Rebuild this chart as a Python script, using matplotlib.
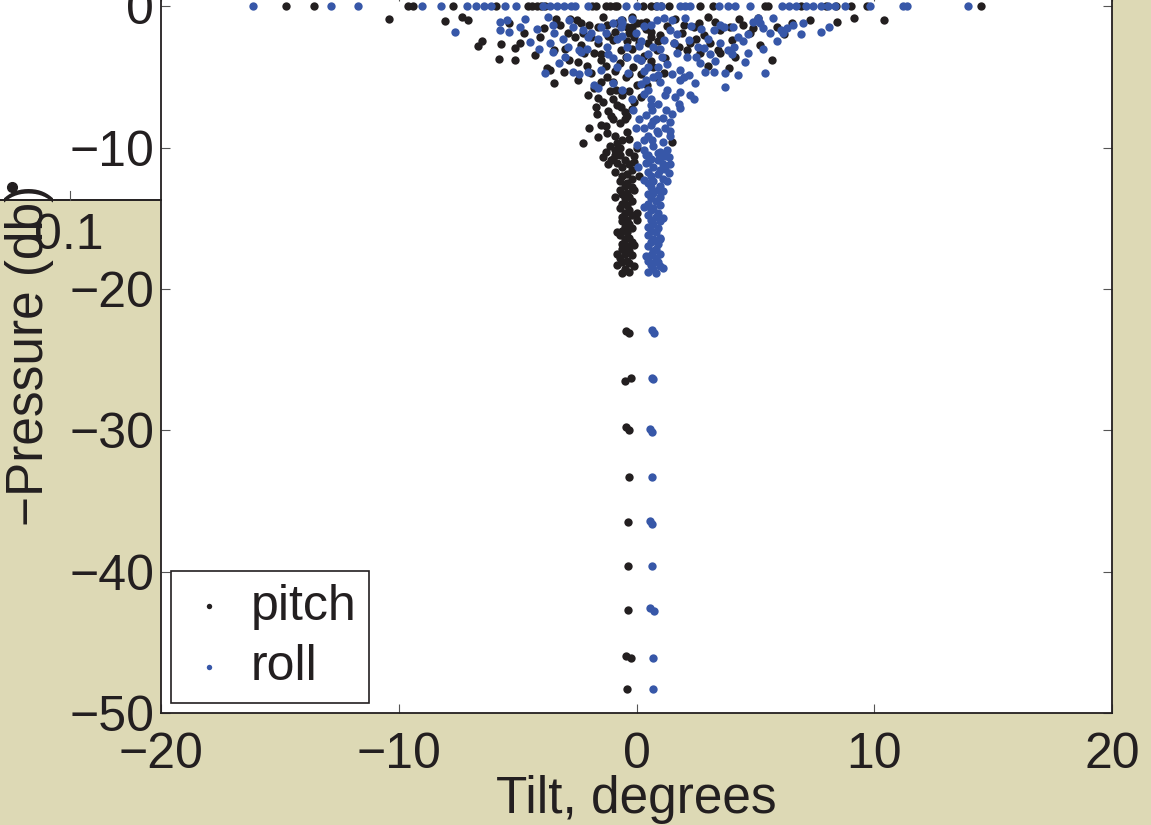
import matplotlib
matplotlib.use("Agg")
import numpy as np
import matplotlib.pyplot as plt
from matplotlib.patches import Rectangle
from matplotlib.lines import Line2D

plt.rcParams['font.family'] = ['Liberation Sans', 'DejaVu Sans']

# points sitting on the surface (pressure = 0)
pitch_top_x = [-14.76, -13.58, -9.63, -9.38, -7.70, -5.89, -4.58, -4.40, -4.20, -4.00,
               -3.83, -1.89, -1.72, -1.30, -1.10, -0.90, -0.80, 0.29, 0.59, 0.80,
               1.01, 1.35, 2.69, 3.20, 5.42, 5.55, 6.90, 7.95, 8.40, 9.04,
               9.71, 14.50]
roll_top_x = [-16.15, -12.87, -11.73, -9.04, -8.24, -7.15, -6.73, -6.43, -6.14, -5.55,
              -5.05, -3.95, -3.65, -3.35, -3.05, -2.75, -2.57, -2.06, -0.46, 0.04,
              0.85, 1.05, 1.85, 2.05, 2.27, 3.45, 3.83, 4.16, 4.79, 6.14,
              6.42, 6.69, 7.15, 7.44, 7.75, 8.05, 8.37, 8.75, 9.84, 11.22,
              11.38, 13.96]

# the cloud near the surface
pitch_cloud_x = [-10.43, -8.07, -7.36, -7.07, -6.65, -6.48, -5.80, -5.68, -5.38, -5.09,
                 -5.09, -4.88, -4.75, -4.29, -3.90, -3.78, -3.62, -3.49, -3.49, -3.20,
                 -3.07, -2.86, -2.48, -2.48, -2.35, -2.06, -1.98, -2.27, -1.72, -1.68,
                 -1.51, -1.60, -1.22, -1.43, -1.09, -0.97, -0.88, -0.97, -1.22, -1.51,
                 -1.80, -1.64, -0.97, -0.67, -0.38, -0.13, -0.46, -0.67, -0.38, -0.80,
                 -1.09, 0.04, 0.04, 0.04, -0.17, 0.04, -1.64, -2.23, -2.35, -1.22,
                 -0.59, -0.38, -0.46, 0.17, 0.38, 0.59, 1.00, 0.88, 1.14, 0.71,
                 0.46, 0.17, 1.51, 1.56, 1.93, 2.14, 2.27, 2.40, 2.61, 2.69,
                 2.99, 2.82, 3.41, 3.53, 3.53, 3.87, 3.95, 4.16, 4.79, 4.92,
                 5.21, 5.13, 5.72, 6.56, 8.45, 9.13, 10.43, -1.30, -0.90, -0.20,
                 0.30, 0.50, -1.10, -0.60, -1.40, -0.80, -1.20, -0.50, -1.00, -0.70,
                 -1.30, -0.40, -0.90, -0.60, -1.10, -0.30, -0.70, -1.60, -1.80, -2.10,
                 -1.50, 0.00, 0.20, -0.30, 0.60, 0.90, 1.20, -0.10, 0.40, -0.90,
                 -2.60, -3.00, -2.00, -4.05, -2.80, -1.40, -0.20, 1.60, 3.00, 4.30]
pitch_cloud_y = [-0.92, -1.06, -0.78, -0.99, -2.80, -2.50, -3.75, -2.70, -1.20, -2.95,
                 -3.80, -2.60, -1.90, -3.46, -1.57, -4.40, -4.50, -5.45, -3.10, -1.34,
                 -4.66, -3.80, -3.95, -5.20, -2.76, -6.30, -8.60, -9.70, -7.10, -7.60,
                 -8.40, -9.25, -9.00, -10.70, -7.80, -6.60, -5.90, -5.40, -5.00, -3.80,
                 -3.30, -2.60, -2.40, -3.10, -2.50, -4.30, -5.00, -7.10, -7.80, -9.70,
                 -10.90, -10.00, -15.10, -14.60, -1.50, -1.20, -1.50, -1.90, -1.20, -1.34,
                 -0.99, -1.50, -3.60, -1.20, -1.13, -1.84, -2.05, -3.10, -4.70, -4.30,
                 -5.60, -6.40, -9.60, -2.60, -1.90, -3.10, -2.60, -1.50, -1.20, -3.30,
                 -4.20, -2.05, -3.10, -3.30, -1.70, -4.40, -1.50, -3.60, -1.90, -1.56,
                 -2.76, -0.85, -3.80, -1.20, -1.13, -0.85, -0.99, -4.20, -4.60, -3.00,
                 -3.50, -2.60, -6.00, -6.30, -6.80, -7.00, -7.40, -7.50, -8.00, -8.30,
                 -8.50, -8.90, -9.20, -9.50, -9.90, -9.40, -10.00, -6.50, -5.80, -4.20,
                 -3.40, -5.60, -4.80, -6.00, -3.90, -2.50, -3.70, -2.20, -1.60, -1.80,
                 -2.20, -3.00, -1.30, -2.20, -0.90, -0.75, -0.80, -0.90, -0.80, -0.90]
pitch_extra_x = [-3.4, -2.9, -2.5, -1.9, -1.2, -0.8, -0.3, 0.1, 0.6, 1.3,
                 1.8, 2.0, 2.5, 3.1, 3.3, 4.0, 4.5, 5.9, 6.2, 7.3,
                 -2.2, -1.9, -1.5, -0.7, -0.3, 0.2, 0.8, -0.1, -0.5, -0.2,
                 -1.3, -0.9, -1.2, -0.1, 0.1, -0.9, -0.1, -0.8, -0.1, -0.8]
pitch_extra_y = [-0.9, -1.9, -1.0, -2.2, -2.1, -1.2, -1.9, -2.6, -2.2, -1.4,
                 -2.9, -1.3, -2.3, -2.6, -1.1, -2.4, -1.3, -1.5, -2.0, -1.0,
                 -3.3, -4.7, -5.4, -4.0, -4.8, -3.8, -5.0, -6.8, -8.0, -7.3,
                 -10.3, -10.5, -11.2, -11.0, -12.0, -13.5, -13.0, -16.0, -16.9, -17.5]

roll_cloud_x = [-7.65, -5.76, -5.43, -5.76, -5.38, -4.67, -4.46, -3.83, -3.74, -3.53,
                -3.49, -3.62, -3.53, -3.28, -3.11, -2.90, -2.86, -2.65, -2.69, -2.40,
                -2.35, -2.23, -2.06, -2.02, -1.93, -1.80, -1.60, -1.51, -1.51, -1.30,
                -1.22, -1.00, -0.97, -0.97, -0.80, -0.67, -0.67, -0.59, -0.38, -0.34,
                -0.17, -0.13, -0.04, -0.04, 0.04, 0.08, -0.59, 0.10, 0.17, 0.38,
                0.50, 0.67, 0.71, 0.88, 0.67, 0.88, 1.14, 1.14, 1.43, 1.56,
                1.09, 0.92, 1.30, 1.22, 1.43, 1.43, 1.35, 1.43, 1.35, 1.72,
                1.85, 1.85, 1.85, 1.77, 1.85, 2.06, 2.14, 2.19, 2.27, 2.40,
                2.48, 2.57, 2.69, 2.82, 2.90, 3.24, 3.24, 3.53, 3.66, 3.74,
                3.74, 3.83, 4.04, 4.08, 4.25, 4.29, 4.50, 4.58, 4.71, 4.88,
                5.09, 5.21, 5.34, 5.42, 5.76, 5.93, 6.06, 6.18, 6.35, 7.02,
                7.74, 0.30, 0.60, 0.90, 0.40, 1.10, 0.60, 0.90, 0.50, 1.10,
                0.70, 1.30, 0.40, 0.90, 0.20, 0.70, 1.00, 1.50, 0.50, 1.30,
                0.20, 0.70, -0.40, -0.80, 0.10, 0.00, 1.20, 1.60, 2.00, 2.50,
                3.10, 3.00, 2.30, 1.50, -1.60, -2.40, -4.20, -0.20, 0.60, 8.10]
roll_cloud_y = [-1.84, -1.13, -0.99, -1.70, -1.84, -0.92, -2.55, -4.70, -0.78, -1.34,
                -1.90, -2.60, -3.25, -4.00, -2.30, -2.90, -0.99, -1.50, -4.66, -4.80,
                -3.25, -1.70, -2.20, -4.66, -1.90, -5.60, -5.80, -1.50, -4.50, -1.90,
                -2.90, -1.20, -3.70, -5.45, -4.30, -0.99, -1.50, -5.90, -2.90, -4.70,
                -6.60, -7.35, -8.60, -1.90, -3.70, -11.40, -1.20, -2.80, -3.80, -5.20,
                -5.90, -7.35, -8.10, -8.80, -9.50, -0.99, -0.85, -2.40, -1.70, -2.60,
                -3.60, -4.30, -5.90, -7.35, -8.20, -8.80, -10.70, -11.20, -11.80, -3.30,
                -4.50, -5.20, -6.10, -6.90, -7.20, -0.85, -3.60, -4.90, -6.30, -6.60,
                -5.45, -2.90, -4.00, -2.97, -4.66, -4.66, -1.70, -1.34, -1.50, -4.70,
                -5.70, -3.10, -1.50, -2.90, -2.20, -4.90, -2.50, -3.95, -3.30, -1.13,
                -0.85, -1.20, -1.56, -4.70, -0.85, -2.50, -1.70, -1.90, -1.56, -1.20,
                -1.84, -6.20, -6.60, -6.90, -7.70, -7.90, -8.40, -9.00, -9.20, -9.60,
                -9.90, -10.20, -10.50, -10.40, -5.50, -5.00, -5.40, -4.80, -4.30, -4.10,
                -2.50, -2.90, -3.60, -2.30, -8.00, -9.80, -8.60, -6.40, -5.00, -3.60,
                -3.40, -2.30, -1.40, -1.00, -2.30, -3.10, -1.60, -0.90, -1.30, -1.50]
roll_extra_x = [-4.9, -4.1, -3.0, -2.1, -1.2, -0.6, 0.3, 0.5, 1.0, 1.7,
                2.2, 2.7, 3.5, 3.3, 4.0, 4.7, 5.3, 5.6, 6.6, 6.9,
                0.3, 0.9, 1.2, 0.6, 1.5, 0.3, 0.8, 1.4, 0.3, 1.0,
                0.5, 1.2, 0.3, 1.3, 1.1, 0.3, 1.1, 1.0, 0.4, 1.1]
roll_extra_y = [-1.5, -3.0, -3.6, -3.0, -3.4, -2.1, -1.4, -3.4, -3.0, -2.0,
                -2.4, -1.6, -2.6, -3.9, -3.4, -2.0, -3.0, -1.9, -1.3, -2.0,
                -4.6, -4.9, -6.3, -7.0, -7.6, -8.6, -8.0, -9.2, -9.5, -10.8,
                -11.0, -11.5, -12.3, -12.4, -13.1, -14.2, -15.0, -16.5, -17.7, -18.5]

# the narrow stems between 10 and 19 db
stem_y = [-10.2, -10.3, -10.5, -10.6, -10.8, -10.9, -11.1, -11.2, -11.4, -11.6,
          -11.7, -11.9, -12.0, -12.2, -12.4, -12.5, -12.7, -12.8, -13.0, -13.2,
          -13.3, -13.5, -13.6, -13.8, -14.0, -14.1, -14.3, -14.4, -14.6, -14.8,
          -14.9, -15.1, -15.2, -15.4, -15.6, -15.7, -15.9, -16.0, -16.2, -16.4,
          -16.5, -16.7, -16.8, -17.0, -17.2, -17.3, -17.5, -17.6, -17.8, -18.0,
          -18.1, -18.2, -18.3, -18.4, -18.6, -18.8, -18.9]
pitch_stem_x = [-0.9, -0.3, -0.7, -0.1, -1.0, -0.5, -0.8, -0.3, -0.6, -0.2,
                -0.9, -0.4, -0.6, -0.2, -0.7, -0.4, -0.5, -0.2, -0.7, -0.4,
                -0.6, -0.3, -0.5, -0.2, -0.6, -0.4, -0.7, -0.3, -0.5, -0.2,
                -0.6, -0.4, -0.6, -0.3, -0.5, -0.2, -0.6, -0.4, -0.7, -0.3,
                -0.5, -0.2, -0.6, -0.4, -0.6, -0.3, -0.5, -0.2, -0.7, -0.4,
                -0.6, -0.3, -0.8, -0.1, -0.5, -0.3, -0.6]
roll_stem_x = [0.3, 1.0, 0.5, 1.2, 0.6, 0.9, 0.4, 1.1, 0.7, 1.0,
               0.5, 0.9, 0.6, 1.1, 0.7, 0.5, 1.0, 0.6, 0.9, 0.7,
               0.5, 1.0, 0.6, 0.8, 0.5, 1.0, 0.7, 0.6, 0.9, 0.5,
               0.8, 0.6, 1.0, 0.7, 0.5, 0.9, 0.6, 0.8, 0.5, 1.0,
               0.7, 0.6, 0.9, 0.5, 0.8, 0.7, 1.0, 0.6, 0.8, 0.5,
               0.9, 0.7, 0.6, 1.0, 0.7, 0.5, 0.8]

# deep profile stops
pitch_deep_x = [-0.45, -0.30, -0.25, -0.50, -0.45, -0.30, -0.30, -0.35, -0.35, -0.35, -0.45, -0.25, -0.40]
pitch_deep_y = [-23.0, -23.1, -26.3, -26.5, -29.8, -30.0, -33.3, -36.5, -39.6, -42.7, -46.0, -46.1, -48.3]
roll_deep_x = [0.65, 0.75, 0.65, 0.70, 0.55, 0.65, 0.65, 0.55, 0.65, 0.65, 0.55, 0.75, 0.70, 0.70]
roll_deep_y = [-22.9, -23.1, -26.3, -26.4, -29.9, -30.1, -33.3, -36.4, -36.6, -39.6, -42.6, -42.8, -46.1, -48.3]

pitch_x = np.concatenate([pitch_top_x, pitch_cloud_x, pitch_extra_x, pitch_stem_x, pitch_deep_x])
pitch_y = np.concatenate([np.zeros(len(pitch_top_x)), pitch_cloud_y, pitch_extra_y, stem_y, pitch_deep_y])
roll_x = np.concatenate([roll_top_x, roll_cloud_x, roll_extra_x, roll_stem_x, roll_deep_x])
roll_y = np.concatenate([np.zeros(len(roll_top_x)), roll_cloud_y, roll_extra_y, stem_y, roll_deep_y])

bg = '#ddd9b5'
black = '#231f20'
blue = '#3757a8'
W, H = 1151, 825
fs = 36

fig = plt.figure(figsize=(W / 100, H / 100), dpi=100, facecolor=bg)

# leftover piece of a neighbouring panel in the top-left corner
fig.patches.append(Rectangle((0, 1 - 200 / H), 161 / W, 200 / H, transform=fig.transFigure,
                             facecolor='white', edgecolor='none', zorder=-1))
fig.lines.append(Line2D([0, 161 / W], [1 - 200 / H] * 2, transform=fig.transFigure, color=black, lw=1.4))
fig.lines.append(Line2D([70 / W] * 2, [1 - 200 / H, 1 - 191 / H], transform=fig.transFigure, color='#555555', lw=0.8))
fig.lines.append(Line2D([12 / W], [1 - 187 / H], transform=fig.transFigure, marker='o', ms=7, color=black, lw=0))
fig.text(69 / W, 1 - 236 / H, '0.1', fontsize=fs, color=black, ha='center', va='center')

ax = fig.add_axes([161 / W, 112 / H, 951 / W, 721 / H])
ax.set_facecolor('white')
ax.scatter(pitch_x, pitch_y, s=36, color=black, linewidths=0, label='pitch')
ax.scatter(roll_x, roll_y, s=36, color=blue, linewidths=0, label='roll')

ax.set_xlim(-20, 20)
ax.set_ylim(-50, 1)
ax.set_xticks([-20, -10, 0, 10, 20])
ax.set_yticks([-50, -40, -30, -20, -10, 0])
ax.tick_params(direction='in', length=6.5, width=0.8, color='#555555', top=True, right=True,
               labelsize=fs, labelcolor=black)
ax.tick_params(axis='x', pad=14)
ax.tick_params(axis='y', pad=5)
for sp in ax.spines.values():
    sp.set_linewidth(1.3)
    sp.set_color(black)

fig.text(636 / W, 1 - 813 / H, 'Tilt, degrees', fontsize=fs + 1, color=black, ha='center', va='baseline')
fig.text(30 / W, 1 - 355 / H, '\u2212Pressure (db)', fontsize=fs + 1, color=black, rotation=90,
         ha='center', va='center')

leg = ax.legend(loc='lower left', bbox_to_anchor=(171 / W, 122 / H), bbox_transform=fig.transFigure,
                borderaxespad=0, fontsize=fs, fancybox=False, framealpha=1, edgecolor=black,
                markerscale=0.65, handlelength=1.0, handletextpad=0.35, borderpad=0.25, labelspacing=0.3)
leg.get_frame().set_linewidth(1.2)
for t in leg.get_texts():
    t.set_color(black)

fig.savefig('out.png', dpi=100, facecolor=bg)
